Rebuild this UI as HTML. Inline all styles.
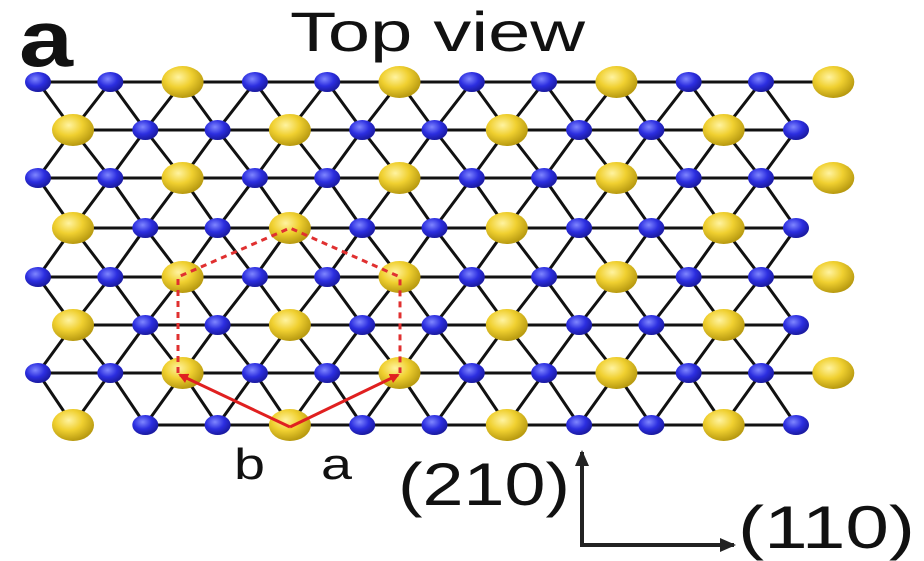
<!DOCTYPE html>
<html><head><meta charset="utf-8"><style>
html,body{margin:0;padding:0;background:#fff;width:924px;height:561px;overflow:hidden}
svg{display:block}
text{font-family:"Liberation Sans",sans-serif;fill:#111}
</style></head><body>
<svg id="fig" width="924" height="561" viewBox="0 0 924 561">
<defs>
<radialGradient id="gy" cx="40%" cy="35%" r="65%"><stop offset="0" stop-color="#fff3a0"/><stop offset="0.5" stop-color="#f0d030"/><stop offset="1" stop-color="#b89a10"/></radialGradient>
<radialGradient id="gb" cx="40%" cy="35%" r="65%"><stop offset="0" stop-color="#7f86ff"/><stop offset="0.55" stop-color="#2c2ee0"/><stop offset="1" stop-color="#1a1aa0"/></radialGradient>
<marker id="ar" markerWidth="10" markerHeight="10" refX="8" refY="5" orient="auto" markerUnits="userSpaceOnUse"><path d="M0,0 L10,5 L0,10 z" fill="#e02020"/></marker>
<marker id="ak" markerWidth="16" markerHeight="14" refX="14" refY="7" orient="auto" markerUnits="userSpaceOnUse"><path d="M0,0 L16,7 L0,14 z" fill="#222"/></marker>
</defs>
<text x="19" y="66" font-size="80" font-weight="bold" textLength="54" lengthAdjust="spacingAndGlyphs">a</text>
<text x="290" y="51" font-size="56" textLength="295" lengthAdjust="spacingAndGlyphs">Top view</text>
<g id="bonds" stroke="#111" stroke-width="3"></g>
<g id="atoms"></g>
<g fill="none" stroke="#e03030" stroke-width="3" stroke-dasharray="6,5">
<polyline points="178,373 178,277 290,228 400,277 400,373"/>
</g>
<line x1="290" y1="427" x2="180" y2="375" stroke="#e02020" stroke-width="3" marker-end="url(#ar)"/>
<line x1="290" y1="427" x2="398" y2="375" stroke="#e02020" stroke-width="3" marker-end="url(#ar)"/>
<text x="234" y="479" font-size="44" textLength="31" lengthAdjust="spacingAndGlyphs">b</text>
<text x="321" y="479" font-size="44" textLength="31" lengthAdjust="spacingAndGlyphs">a</text>
<text x="398" y="505" font-size="60" textLength="172" lengthAdjust="spacingAndGlyphs">(210)</text>
<text x="738" y="548" font-size="60" textLength="177" lengthAdjust="spacingAndGlyphs">(110)</text>
<line x1="582" y1="545" x2="582" y2="452" stroke="#222" stroke-width="4" marker-end="url(#ak)"/>
<line x1="580" y1="545" x2="734" y2="545" stroke="#222" stroke-width="4" marker-end="url(#ak)"/>
</svg>
<script>
const rowY=[82,130,178,228,277,325,373,425];
const evenX0=38, oddX0=73, dx=72.3;
const evenCount=12, oddCount=11;
const evenYellow=[2,5,8,11], oddYellow=[0,3,6,9];
const NS='http://www.w3.org/2000/svg';
const bonds=document.getElementById('bonds'), atoms=document.getElementById('atoms');
function rowAtoms(r){const ev=r%2===0;const n=ev?evenCount:oddCount;const a=[];for(let i=0;i<n;i++){a.push({x:(ev?evenX0:oddX0)+dx*i,y:rowY[r],yel:(ev?evenYellow:oddYellow).includes(i),i:i});}return a;}
function line(x1,y1,x2,y2){const l=document.createElementNS(NS,'line');l.setAttribute('x1',x1);l.setAttribute('y1',y1);l.setAttribute('x2',x2);l.setAttribute('y2',y2);


bonds.appendChild(l);}
const rows=rowY.map((_,r)=>rowAtoms(r));
rows.forEach((a,r)=>{
  for(let i=0;i<a.length-1;i++){ if(r===7&&i===0)continue; line(a[i].x,a[i].y,a[i+1].x,a[i+1].y);}
  if(r<rows.length-1){const b=rows[r+1];
    a.forEach(p=>{ if(r%2===0&&p.i===evenCount-1)return;
      b.forEach(q=>{ if((r+1)%2===0&&q.i===evenCount-1)return;
        if(Math.abs(q.x-p.x)<40) line(p.x,p.y,q.x,q.y);});});}
});
rows.forEach(a=>a.forEach(p=>{const e=document.createElementNS(NS,'ellipse');e.setAttribute('cx',p.x);e.setAttribute('cy',p.y);
e.setAttribute('rx',p.yel?21:13);e.setAttribute('ry',p.yel?16:10);e.setAttribute('fill',p.yel?'url(#gy)':'url(#gb)');


atoms.appendChild(e);}));
</script>
</body></html>
